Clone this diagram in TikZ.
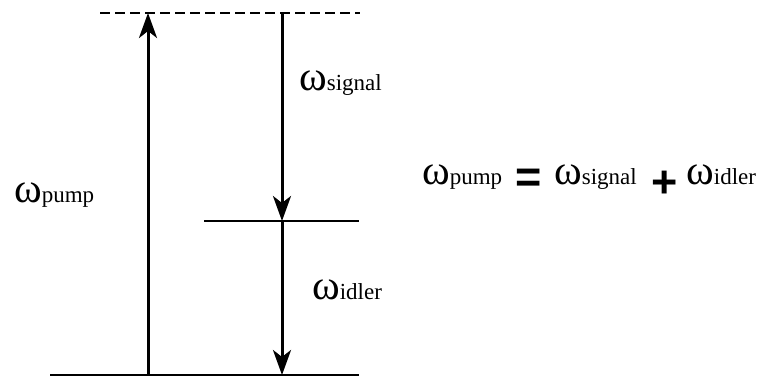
\documentclass[tikz,border=0pt]{standalone}
\usepackage{fontspec}
\setmainfont{Liberation Serif}
\newfontfamily\opfont{Liberation Sans}
\usetikzlibrary{arrows.meta}
\newcommand{\omsub}[1]{{\fontsize{42}{42}\selectfont ω}{\fontsize{23}{23}\selectfont #1}}
\begin{document}
\begin{tikzpicture}[x=1pt,y=1pt,
  level/.style={line width=1.8pt},
  trans/.style={line width=3pt,-{Stealth[length=25pt,width=18pt,inset=7pt]}},
  lbl/.style={inner sep=0pt,anchor=base west},
  op/.style={inner sep=0pt,anchor=center,font=\opfont\bfseries\fontsize{45}{45}\selectfont}]
\useasboundingbox (0,0) rectangle (759,377);
% levels
\coordinate (vl) at (100,364);
\coordinate (vr) at (360,364);
\coordinate (ml) at (204,156);
\coordinate (mr) at (359,156);
\coordinate (gl) at (50,2);
\coordinate (gr) at (359,2);
\draw[level,dash pattern=on 10pt off 5pt] (vl) -- (vr);
\draw[level] (ml) -- (mr);
\draw[level] (gl) -- (gr);
% transitions
\coordinate (p0) at (148,2);
\coordinate (p1) at (148,364);
\coordinate (s0) at (282,364);
\coordinate (s1) at (282,156);
\coordinate (i1) at (282,2);
\draw[trans] (p0) -- (p1);
\draw[trans] (s0) -- (s1);
\draw[trans] (s1) -- (i1);
% labels
\node[lbl] (lp) at (14,174) {\omsub{pump}};
\node[lbl] (ls) at (299,286) {\omsub{signal}};
\node[lbl] (li) at (312,77) {\omsub{idler}};
% equation
\node[lbl] (e1) at (422,192) {\omsub{pump}};
\node[op] (eq) at (529,196) {=};
\node[lbl] (e2) at (554,192) {\omsub{signal}};
\node[op] (pl) at (665,193) {+};
\node[lbl] (e3) at (686,192) {\omsub{idler}};
\end{tikzpicture}
\end{document}
